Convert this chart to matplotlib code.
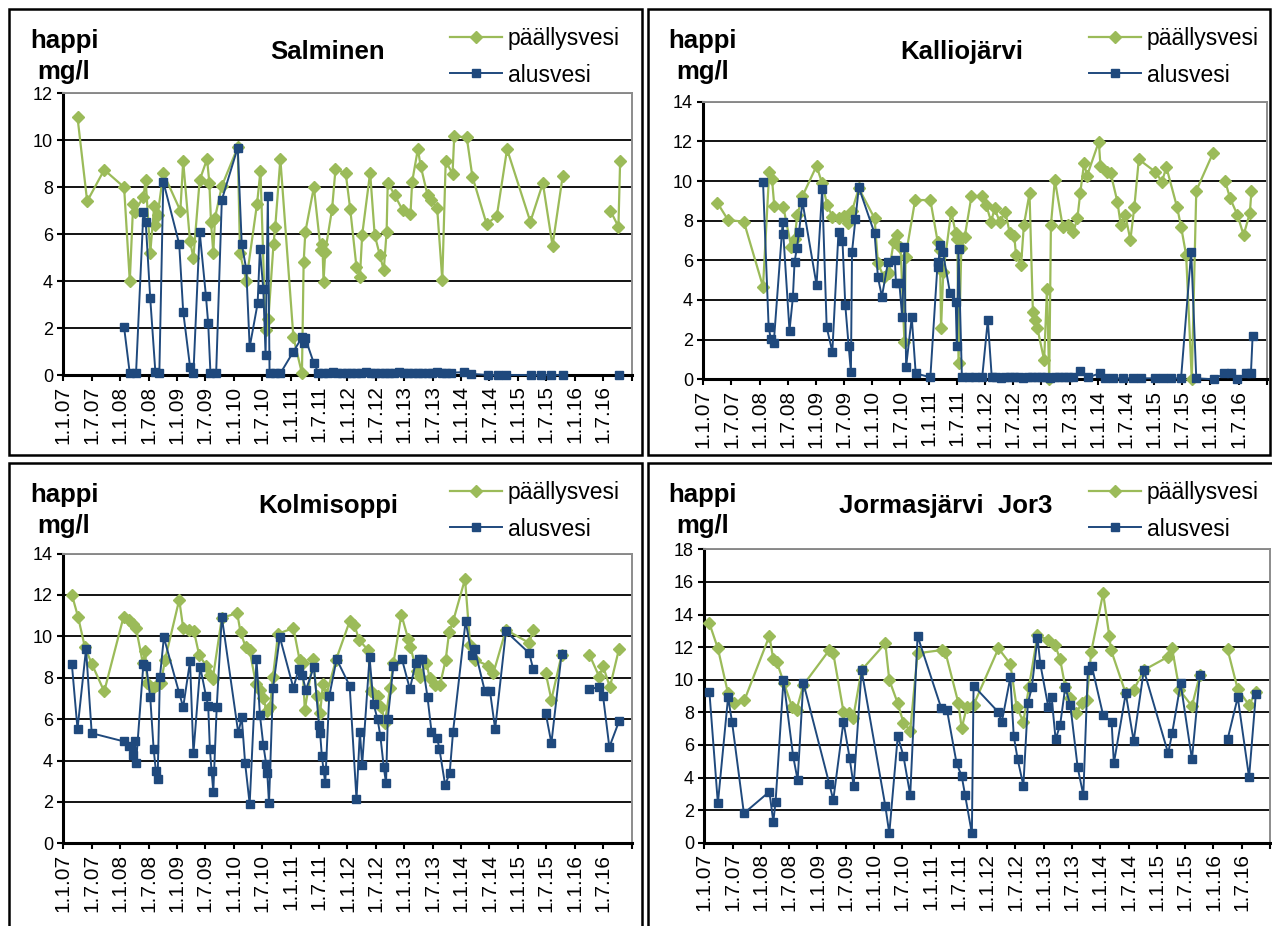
import numpy as np
import matplotlib
matplotlib.use('Agg')
import matplotlib.pyplot as plt
from matplotlib.lines import Line2D
from matplotlib.patches import Rectangle

plt.rcParams['font.family'] = ['Liberation Sans', 'DejaVu Sans']

nan = np.nan

date_labels = ['1.1.07', '1.7.07', '1.1.08', '1.7.08', '1.1.09', '1.7.09', '1.1.10', '1.7.10',
               '1.1.11', '1.7.11', '1.1.12', '1.7.12', '1.1.13', '1.7.13', '1.1.14', '1.7.14',
               '1.1.15', '1.7.15', '1.1.16', '1.7.16']

# Salminen
salminen_pv_t = [2007.25, 2007.42, 2007.72, 2008.07, 2008.17, 2008.23, 2008.26, 2008.41, 2008.45, 2008.53,
                 2008.60, 2008.62, 2008.66, 2008.76, 2009.06, 2009.11, 2009.23, 2009.29, 2009.40, 2009.53,
                 2009.57, 2009.60, 2009.64, 2009.67, 2009.79, 2010.07, 2010.11, 2010.22, 2010.41, 2010.47,
                 2010.56, 2010.61, 2010.70, 2010.73, 2010.82, 2011.05, 2011.20, 2011.23, 2011.26, 2011.41,
                 2011.53, 2011.56, 2011.58, 2011.61, 2011.73, 2011.79, 2011.97, 2012.05, 2012.16, 2012.22,
                 2012.26, 2012.40, 2012.48, 2012.57, 2012.64, 2012.69, 2012.71, 2012.83, 2012.97, 2013.11,
                 2013.14, 2013.24, 2013.29, 2013.41, 2013.47, 2013.58, 2013.67, 2013.73, 2013.85, 2013.88,
                 2014.10, 2014.20, 2014.45, 2014.63, 2014.81, 2015.22, 2015.44, 2015.61, 2015.79, nan,
                 2016.63, 2016.77, 2016.80]
salminen_pv = [10.98, 7.4, 8.74, 8.0, 4.0, 7.3, 6.96, 7.6, 8.3, 5.2,
               7.2, 6.4, 6.8, 8.6, 7.0, 9.1, 5.7, 5.0, 8.3, 9.2,
               8.2, 6.5, 5.2, 6.7, 8.05, 9.7, 5.2, 4.0, 7.3, 8.7,
               1.9, 2.4, 5.6, 6.3, 9.2, 1.6, 0.07, 4.8, 6.1, 8.0,
               5.33, 5.6, 3.98, 5.26, 7.06, 8.76, 8.6, 7.06, 4.59, 4.16,
               5.97, 8.62, 5.97, 5.11, 4.47, 6.1, 8.2, 7.67, 7.03, 6.86,
               8.24, 9.62, 8.9, 7.67, 7.46, 7.1, 4.05, 9.12, 8.57, 10.16,
               10.13, 8.45, 6.43, 6.78, 9.62, 6.53, 8.17, 5.51, 8.49, nan,
               6.99, 6.32, 9.12]
salminen_av_t = [2008.07, 2008.17, 2008.28, 2008.41, 2008.45, 2008.53, 2008.62, 2008.69, 2008.76, 2009.04,
                 2009.11, 2009.23, 2009.29, 2009.40, 2009.51, 2009.55, 2009.59, 2009.69, 2009.79, 2010.07,
                 2010.14, 2010.22, 2010.28, 2010.42, 2010.46, 2010.52, 2010.56, 2010.60, 2010.63, 2010.73,
                 2010.82, 2011.05, 2011.20, 2011.23, 2011.26, 2011.41,
                 2011.49, 2011.57, 2011.66, 2011.74, 2011.82, 2011.91, 2011.99, 2012.07, 2012.16, 2012.24,
                 2012.32, 2012.41, 2012.49, 2012.57, 2012.66, 2012.74, 2012.82, 2012.91, 2012.99, 2013.07,
                 2013.16, 2013.24, 2013.32, 2013.41, 2013.49, 2013.57, 2013.66, 2013.74, 2013.82,
                 2014.05, 2014.17, 2014.47, 2014.65, 2014.79, 2015.23, 2015.41, 2015.58, 2015.79, nan,
                 2016.78]
salminen_av = [2.03, 0.07, 0.07, 6.96, 6.53, 3.27, 0.14, 0.07, 8.24, 5.58,
               2.7, 0.36, 0.07, 6.1, 3.37, 2.2, 0.07, 0.07, 7.46, 9.69,
               5.6, 4.5, 1.18, 3.05, 5.36, 3.65, 0.84, 7.64, 0.07, 0.07,
               0.07, 1.0, 1.6, 1.35, 1.56, 0.5,
               0.1, 0.08, 0.1, 0.12, 0.1, 0.09, 0.1, 0.1, 0.08, 0.1,
               0.11, 0.1, 0.09, 0.1, 0.1, 0.08, 0.1, 0.12, 0.1, 0.1,
               0.09, 0.1, 0.1, 0.08, 0.1, 0.11, 0.1, 0.1, 0.1,
               0.12, 0.05, 0.0, 0.0, 0.0, 0.0, 0.0, 0.0, 0.0, nan,
               0.0]

# Kalliojärvi
kallio_pv_t = [2007.25, 2007.44, 2007.72, 2008.06, 2008.17, 2008.22, 2008.26, 2008.42, 2008.56, 2008.62,
               2008.67, 2008.76, 2009.01, 2009.11, 2009.20, 2009.29, 2009.41, 2009.50, 2009.56, 2009.64,
               2009.76, 2010.04, 2010.10, 2010.20, 2010.29, 2010.38, 2010.44, 2010.50, 2010.57, 2010.59,
               2010.76, 2011.03, 2011.16, 2011.20, 2011.22, 2011.26, 2011.40, 2011.48, 2011.51, 2011.53,
               2011.58, 2011.64, 2011.76, 2011.94, 2012.02, 2012.11, 2012.17, 2012.26, 2012.36, 2012.44,
               2012.52, 2012.55, 2012.64, 2012.69, 2012.79, 2012.85, 2012.89, 2012.93, 2013.05, 2013.10,
               2013.14, 2013.17, 2013.24, 2013.38, 2013.47, 2013.57, 2013.64, 2013.69, 2013.76, 2013.81,
               2014.02, 2014.05, 2014.16, 2014.23, 2014.35, 2014.41, 2014.49, 2014.58, 2014.65, 2014.73,
               2015.02, 2015.14, 2015.22, 2015.41, 2015.48, 2015.57, 2015.67, 2015.75, 2016.05, nan,
               2016.26, 2016.35, 2016.48, 2016.59, 2016.70, 2016.73]
kallio_pv = [8.9, 8.03, 7.95, 4.67, 10.47, 10.08, 8.74, 8.7, 6.69, 7.1,
             8.3, 9.24, 10.76, 9.88, 8.79, 8.2, 8.12, 8.24, 7.87, 8.5,
             9.63, 8.12, 5.85, 5.18, 5.34, 6.94, 7.28, 6.69, 1.9, 6.18,
             9.04, 9.04, 6.94, 6.52, 2.57, 5.43, 8.45, 7.39, 7.1, 0.81,
             6.6, 7.19, 9.24, 9.24, 8.79, 7.95, 8.62, 7.95, 8.45, 7.36,
             7.23, 6.27, 5.76, 7.78, 9.38, 3.41, 2.99, 2.57, 0.97, 4.54,
             0.0, 7.78, 10.05, 7.7, 7.78, 7.45, 8.12, 9.38, 10.92, 10.25,
             11.98, 10.76, 10.47, 10.39, 8.96, 7.78, 8.29, 7.03, 8.67, 11.09,
             10.47, 9.97, 10.69, 8.67, 7.7, 6.27, 0.0, 9.51, 11.43, nan,
             10.02, 9.13, 8.29, 7.28, 8.37, 9.51]
kallio_av_t = [2008.06, 2008.16, 2008.20, 2008.25, 2008.41, 2008.42, 2008.53, 2008.59, 2008.62, 2008.66,
               2008.70, 2008.76, 2009.01, 2009.11, 2009.19, 2009.29, 2009.40, 2009.47, 2009.52, 2009.58,
               2009.62, 2009.64, 2009.70, 2009.76, 2010.04, 2010.10, 2010.17, 2010.28, 2010.40, 2010.42,
               2010.48, 2010.53, 2010.57, 2010.60, 2010.70, 2010.77, 2011.03, 2011.16, 2011.17, 2011.20,
               2011.25, 2011.38, 2011.48, 2011.50, 2011.53, 2011.59, 2011.71, 2011.83, 2011.95, 2012.05,
               2012.12,
               2012.20, 2012.28, 2012.36, 2012.44, 2012.52, 2012.60, 2012.68, 2012.76, 2012.84, 2012.92,
               2013.00, 2013.08, 2013.16, 2013.24, 2013.32, 2013.40, 2013.48, 2013.56,
               2013.69, 2013.83, 2014.04, 2014.13, 2014.27, 2014.45, 2014.63, 2014.77, 2015.01, 2015.16,
               2015.30, 2015.48, 2015.66, 2015.75, 2016.07, 2016.25, 2016.36, 2016.48, 2016.63, 2016.72,
               2016.75]
kallio_av = [9.97, 2.62, 2.02, 1.82, 7.95, 7.33, 2.45, 4.13, 5.93, 6.6,
             7.45, 8.96, 4.76, 9.58, 2.62, 1.39, 7.45, 6.99, 3.75, 1.68,
             0.39, 6.44, 8.07, 9.68, 7.36, 5.14, 4.17, 5.93, 6.02, 4.84,
             4.84, 3.13, 6.69, 0.64, 3.13, 0.3, 0.1, 5.93, 5.68, 6.77,
             6.44, 4.34, 3.92, 1.68, 6.55, 0.1, 0.1, 0.1, 0.1, 2.99,
             0.1,
             0.1, 0.08, 0.1, 0.12, 0.1, 0.1, 0.09, 0.1, 0.1, 0.11,
             0.1, 0.1, 0.08, 0.1, 0.1, 0.12, 0.1, 0.1,
             0.44, 0.1, 0.3, 0.05, 0.05, 0.05, 0.05, 0.05, 0.05, 0.05,
             0.05, 0.05, 6.44, 0.05, 0.0, 0.3, 0.3, 0.0, 0.3, 0.3,
             2.18]

# Kolmisoppi
kolmi_pv_t = [2007.15, 2007.26, 2007.38, 2007.50, 2007.72, 2008.06, 2008.16, 2008.22, 2008.28, 2008.40,
              2008.44, 2008.48, 2008.58, 2008.65, 2008.72, 2008.79, 2009.04, 2009.11, 2009.22, 2009.30,
              2009.39, 2009.52, 2009.58, 2009.63, 2009.79, 2010.06, 2010.12, 2010.21, 2010.28, 2010.39,
              2010.46, 2010.52, 2010.58, 2010.64, 2010.69, 2010.78, 2011.05, 2011.16, 2011.21, 2011.25,
              2011.40, 2011.46, 2011.52, 2011.57, 2011.63, 2011.80, 2012.04, 2012.12, 2012.21, 2012.36,
              2012.42, 2012.54, 2012.60, 2012.66, 2012.75, 2012.81, 2012.95, 2013.07, 2013.11, 2013.22,
              2013.28, 2013.39, 2013.45, 2013.54, 2013.63, 2013.73, 2013.79, 2013.86, 2014.07, 2014.16,
              2014.24, 2014.48, 2014.57, 2014.79, 2015.20, 2015.27, nan, 2015.49, 2015.59, 2015.77,
              nan, 2016.26, 2016.43, 2016.50, 2016.62, 2016.78]
kolmi_pv = [12.02, 10.94, 9.48, 8.68, 7.34, 10.94, 10.77, 10.6, 10.4, 8.71,
            9.27, 7.74, 7.5, 7.66, 7.77, 8.87, 11.77, 10.4, 10.32, 10.24,
            9.11, 8.55, 8.15, 7.94, 10.89, 11.13, 10.19, 9.48, 9.32, 7.71,
            7.42, 7.02, 6.37, 6.61, 8.06, 10.13, 10.4, 8.84, 8.71, 6.45,
            8.9, 7.1, 6.29, 7.71, 7.18, 8.87, 10.73, 10.56, 9.81, 9.35,
            7.34, 7.13, 6.61, 5.81, 7.5, 8.71, 11.05, 9.87, 9.48, 8.31,
            8.06, 8.71, 7.98, 7.66, 7.66, 8.87, 10.19, 10.73, 12.77, 9.6,
            8.87, 8.58, 8.23, 10.32, 9.68, 10.32, nan, 8.23, 6.94, 9.11,
            nan, 9.11, 8.06, 8.55, 7.55, 9.39]
kolmi_av_t = [2007.15, 2007.25, 2007.40, 2007.50, 2008.07, 2008.16, 2008.23, 2008.26, 2008.28, 2008.41,
              2008.46, 2008.53, 2008.59, 2008.63, 2008.66, 2008.70, 2008.77, 2009.04, 2009.11, 2009.23,
              2009.29, 2009.41, 2009.51, 2009.55, 2009.58, 2009.61, 2009.64, 2009.70, 2009.79, 2010.08,
              2010.14, 2010.20, 2010.28, 2010.40, 2010.46, 2010.52, 2010.57, 2010.59, 2010.62, 2010.69,
              2010.81, 2011.05, 2011.14, 2011.20, 2011.27, 2011.41, 2011.50, 2011.52, 2011.55, 2011.58,
              2011.61, 2011.68, 2011.81, 2012.04, 2012.16, 2012.22, 2012.26, 2012.39, 2012.46, 2012.53,
              2012.58, 2012.64, 2012.68, 2012.71, 2012.81, 2012.96, 2013.10, 2013.20, 2013.26, 2013.31,
              2013.41, 2013.48, 2013.58, 2013.62, 2013.72, 2013.80, 2013.86, 2014.08, 2014.19, 2014.24,
              2014.42, 2014.51, 2014.60, 2014.79, 2015.20, 2015.27, nan, 2015.49, 2015.59, 2015.77,
              nan, 2016.26, 2016.43, 2016.50, 2016.61, 2016.78]
kolmi_av = [8.68, 5.52, 9.39, 5.32, 4.92, 4.68, 4.27, 4.92, 3.87, 8.68,
            8.58, 7.06, 4.55, 3.47, 3.1, 8.03, 9.95, 7.26, 6.58, 8.79,
            4.35, 8.52, 7.13, 6.65, 4.55, 3.47, 2.5, 6.58, 10.94, 5.32,
            6.1, 3.87, 1.9, 8.9, 6.21, 4.76, 3.84, 3.39, 1.94, 7.5,
            9.97, 7.5, 8.42, 8.15, 7.42, 8.52, 5.73, 5.32, 4.23, 3.55,
            2.9, 7.1, 8.9, 7.61, 2.13, 5.4, 3.79, 9.0, 6.74, 6.0,
            5.19, 3.68, 2.9, 6.0, 8.58, 8.9, 7.45, 8.71, 8.9, 8.9,
            7.06, 5.4, 5.08, 4.55, 2.82, 3.39, 5.4, 10.73, 9.11, 9.39,
            7.34, 7.34, 5.52, 10.24, 9.19, 8.42, nan, 6.29, 4.84, 9.16,
            nan, 7.45, 7.55, 7.1, 4.65, 5.89]

# Jormasjärvi Jor3
jormas_pv_t = [2007.09, 2007.24, 2007.42, 2007.52, 2007.71, 2008.15, 2008.22, 2008.28, 2008.41, 2008.55,
               2008.63, 2008.75, 2009.21, 2009.28, 2009.46, 2009.55, 2009.63, 2009.78, 2010.20, 2010.27,
               2010.42, 2010.52, 2010.64, 2010.77, 2011.20, 2011.26, 2011.49, 2011.55, 2011.64, 2011.76,
               2012.20, 2012.41, 2012.52, 2012.64, 2012.74, 2012.89, 2013.08, 2013.20, 2013.29, 2013.38,
               2013.47, 2013.57, 2013.67, 2013.76, 2013.84, 2014.05, 2014.16, 2014.19, 2014.45, 2014.59,
               2014.77, 2015.20, 2015.27, 2015.40, 2015.62, 2015.76, nan, 2016.25, 2016.43, 2016.63,
               2016.75]
jormas_pv = [13.46, 11.92, 9.16, 8.55, 8.75, 12.68, 11.25, 11.1, 9.78, 8.34,
             8.14, 9.67, 11.82, 11.62, 8.04, 7.93, 7.63, 10.59, 12.23, 9.98,
             8.55, 7.36, 6.87, 11.62, 11.82, 11.72, 8.59, 7.01, 8.34, 8.45,
             11.92, 10.96, 8.34, 7.42, 9.57, 12.74, 12.43, 12.13, 11.25, 9.57,
             8.85, 7.93, 8.55, 8.75, 11.72, 15.3, 12.68, 11.82, 9.16, 9.37,
             10.59, 11.41, 11.92, 9.37, 8.38, 10.29, nan, 11.86, 9.41, 8.45,
             9.26]
jormas_av_t = [2007.09, 2007.24, 2007.42, 2007.49, 2007.70, 2008.15, 2008.22, 2008.26, 2008.40, 2008.57,
               2008.65, 2008.75, 2009.21, 2009.28, 2009.46, 2009.57, 2009.64, 2009.78, 2010.20, 2010.27,
               2010.42, 2010.52, 2010.64, 2010.77, 2011.19, 2011.29, 2011.46, 2011.55, 2011.61, 2011.73,
               2011.76, 2012.19, 2012.26, 2012.41, 2012.47, 2012.54, 2012.64, 2012.72, 2012.79, 2012.89,
               2012.94, 2013.08, 2013.14, 2013.21, 2013.29, 2013.38, 2013.47, 2013.60, 2013.70, 2013.78,
               2013.85, 2014.05, 2014.20, 2014.24, 2014.45, 2014.59, 2014.77, 2015.20, 2015.27, 2015.42,
               2015.62, 2015.76, nan, 2016.25, 2016.43, 2016.63, 2016.75]
jormas_av = [9.26, 2.41, 8.92, 7.42, 1.8, 3.13, 1.29, 2.52, 9.98, 5.32,
             3.84, 9.82, 3.6, 2.62, 7.42, 5.17, 3.48, 10.59, 2.25, 0.57,
             6.54, 5.32, 2.92, 12.68, 8.24, 8.14, 4.87, 4.09, 2.92, 0.57,
             9.63, 8.04, 7.42, 10.14, 6.54, 5.11, 3.5, 8.55, 9.53, 12.58,
             10.96, 8.34, 8.92, 6.34, 7.22, 9.53, 8.45, 4.62, 2.92, 10.59,
             10.84, 7.83, 7.42, 4.87, 9.16, 6.24, 10.59, 5.48, 6.71, 9.78,
             5.11, 10.29, nan, 6.34, 8.92, 4.01, 9.12]

W, H = 1272, 926
GREEN = '#9BBB59'
BLUE = '#1F497D'
PV_STYLE = dict(color=GREEN, lw=1.6, marker='D', ms=6.3)
AV_STYLE = dict(color=BLUE, lw=1.4, marker='s', ms=6.2)


def fig_x(px):
    return px / W


def fig_y(py):
    return 1 - py / H


def draw_panel(fig, box, plot, ymax, title, title_x, pv_t, pv, av_t, av):
    bx0, by0, bx1, by1 = box
    fig.add_artist(Rectangle((fig_x(bx0), fig_y(by1)), (bx1 - bx0) / W, (by1 - by0) / H,
                             transform=fig.transFigure, fill=False, ec='black', lw=1.8))

    x0, y0, x1, y1 = plot
    ax = fig.add_axes([fig_x(x0), fig_y(y1), (x1 - x0) / W, (y1 - y0) / H])
    ax.plot(pv_t, pv, zorder=3, clip_on=False, **PV_STYLE)
    ax.plot(av_t, av, zorder=4, clip_on=False, **AV_STYLE)

    ax.set_xlim(2007, 2017)
    ax.set_ylim(0, ymax)
    ax.set_xticks([2007 + 0.5 * k for k in range(len(date_labels) + 1)])
    ax.set_xticklabels(date_labels + [''], rotation=90, fontsize=15)
    ax.set_yticks(range(0, ymax + 1, 2))
    ax.yaxis.grid(True, color='black', lw=1.3)
    ax.set_axisbelow(True)
    for side in ('left', 'bottom'):
        ax.spines[side].set_color('black')
        ax.spines[side].set_linewidth(2.2)
    for side in ('top', 'right'):
        ax.spines[side].set_color('#8c8c8c')
        ax.spines[side].set_linewidth(1.4)
    ax.tick_params(axis='both', direction='out', length=4.5, width=1.5, pad=3)
    ax.tick_params(axis='y', labelsize=13)

    # y-axis caption, title, legend
    fig.text(fig_x(bx0 + 55), fig_y(by0 + 39), 'happi', ha='center', va='baseline',
             fontsize=18.5, fontweight='bold')
    fig.text(fig_x(bx0 + 55), fig_y(by0 + 70), 'mg/l', ha='center', va='baseline',
             fontsize=18.5, fontweight='bold')
    fig.text(fig_x(title_x), fig_y(by0 + 50), title, ha='center', va='baseline',
             fontsize=18.5, fontweight='bold')

    entries = [('päällysvesi', PV_STYLE, 28, 36),
               ('alusvesi', AV_STYLE, 64, 72.7)]
    for label, style, line_dy, text_dy in entries:
        lx = [fig_x(bx0 + 441), fig_x(bx0 + 467), fig_x(bx0 + 493)]
        ly = [fig_y(by0 + line_dy)] * 3
        fig.add_artist(Line2D(lx, ly, transform=fig.transFigure, markevery=[1], **style))
        fig.text(fig_x(bx0 + 499), fig_y(by0 + text_dy), label, ha='left', va='baseline',
                 fontsize=16.5)
    return ax


def main():
    fig = plt.figure(figsize=(W / 100, H / 100), dpi=100)
    fig.patch.set_facecolor('white')

    draw_panel(fig, (9, 9, 642, 455), (63.3, 93.3, 631.5, 375), 12,
               'Salminen', 328, salminen_pv_t, salminen_pv, salminen_av_t, salminen_av)
    draw_panel(fig, (648, 9, 1270, 455), (703.3, 101.7, 1266.7, 379.3), 14,
               'Kalliojärvi', 962, kallio_pv_t, kallio_pv, kallio_av_t, kallio_av)
    draw_panel(fig, (9, 463, 642, 935), (63.3, 553.6, 631.5, 843.3), 14,
               'Kolmisoppi', 328, kolmi_pv_t, kolmi_pv, kolmi_av_t, kolmi_av)
    draw_panel(fig, (648, 463, 1280, 935), (704.3, 549.3, 1270, 842.7), 18,
               'Jormasjärvi  Jor3', 946, jormas_pv_t, jormas_pv, jormas_av_t, jormas_av)

    fig.savefig('out.png', dpi=100)
    plt.close(fig)


if __name__ == '__main__':
    main()
